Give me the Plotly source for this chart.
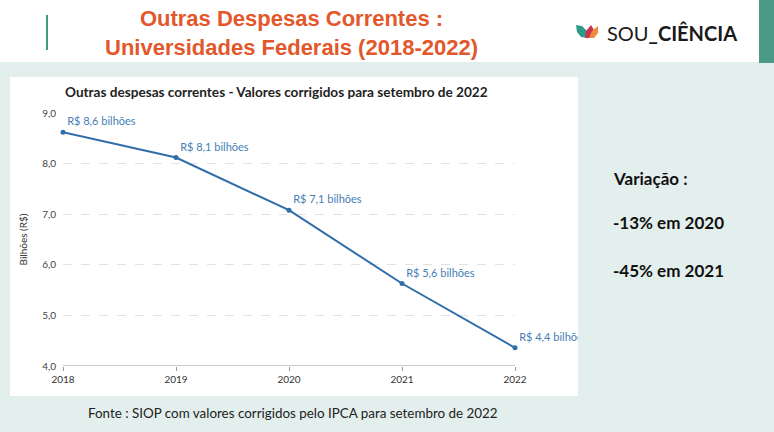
import plotly.graph_objects as go

# ---- data ----
years = [2018, 2019, 2020, 2021, 2022]
values = [8.62, 8.12, 7.08, 5.63, 4.36]
labels = ["R$ 8,6 bilhões", "R$ 8,1 bilhões", "R$ 7,1 bilhões", "R$ 5,6 bilhões", "R$ 4,4 bilhões"]
y_ticks = [4, 5, 6, 7, 8, 9]
y_tick_text = ["4,0", "5,0", "6,0", "7,0", "8,0", "9,0"]
x_tick_text = ["2018", "2019", "2020", "2021", "2022"]
variation_lines = ["Variação :", "-13% em 2020", "-45% em 2021"]

W, H = 774, 432
L, R, T, B = 63, 259, 113, 66
PW, PH = W - L - R, H - T - B


def px(x):
    return (x - L) / PW


def py(y):
    return (H - B - y) / PH


MINT = "#e3efec"
BLUE = "#2f6ea8"
LBLUE = "#4580b5"

fig = go.Figure()
fig.add_trace(go.Scatter(
    x=years, y=values, mode="lines+markers+text",
    line=dict(color=BLUE, width=2),
    marker=dict(color=BLUE, size=5),
    text=labels, textposition="top right",
    textfont=dict(family="Lato", size=11, color=LBLUE),
    cliponaxis=False, hoverinfo="skip", showlegend=False,
))

shapes = [
    dict(type="rect", xref="paper", yref="paper", x0=px(0), x1=px(W), y0=py(0), y1=py(62),
         fillcolor="white", line_width=0, layer="below"),
    dict(type="rect", xref="paper", yref="paper", x0=px(10), x1=px(578), y0=py(77), y1=py(396),
         fillcolor="white", line_width=0, layer="below"),
    dict(type="line", xref="paper", yref="paper", x0=px(47), x1=px(47), y0=py(15), y1=py(50),
         line=dict(color="#3f9a80", width=2)),
    dict(type="rect", xref="paper", yref="paper", x0=px(759), x1=px(W), y0=py(0), y1=py(63),
         fillcolor="#4a9a86", line_width=0, layer="below"),
    dict(type="rect", xref="paper", yref="paper", x0=px(578), x1=px(W), y0=py(63), y1=py(H),
         fillcolor=MINT, line_width=0, layer="above"),
]


def path_px(points):
    return "M " + " L ".join(f"{px(a)},{py(b)}" for a, b in points) + " Z"


shapes += [
    dict(type="path", xref="paper", yref="paper",
         path=path_px([(576, 25), (582, 26), (587, 31), (588, 38), (581, 37), (577, 32)]),
         fillcolor="#2e9b8a", line_width=0),
    dict(type="path", xref="paper", yref="paper",
         path=path_px([(585, 38), (586, 31), (591, 25), (594, 30), (591, 38)]),
         fillcolor="#c8344f", line_width=0),
    dict(type="path", xref="paper", yref="paper",
         path=path_px([(589, 38), (592, 31), (598, 26), (598, 33), (594, 38)]),
         fillcolor="#f08a3c", line_width=0),
]

annotations = [
    dict(text="<b>Outras Despesas Correntes :<br>Universidades Federais (2018-2022)</b>",
         x=px(291), y=py(33), xref="paper", yref="paper", showarrow=False,
         xanchor="center", yanchor="middle",
         font=dict(family="Liberation Sans", size=22, color="#e2572b"), align="center"),
    dict(text="SOU<b>_CIÊNCIA</b>", x=px(605), y=py(33), xref="paper", yref="paper",
         xanchor="left", yanchor="middle", showarrow=False,
         font=dict(family="Lato", size=20, color="#1a1a1a")),
    dict(text="Outras despesas correntes - Valores corrigidos para setembro de 2022",
         x=px(63), y=py(92), xref="paper", yref="paper", xanchor="left", yanchor="middle",
         showarrow=False,
         font=dict(family="Lato", size=13.6, color="#222222", weight=700)),
    dict(text="Fonte : SIOP com valores corrigidos pelo IPCA para setembro de 2022",
         x=px(293), y=py(413), xref="paper", yref="paper", showarrow=False,
         xanchor="center", yanchor="middle",
         font=dict(family="Lato", size=13.4, color="#222222")),
]
for txt, yy in zip(variation_lines, [178, 222, 270]):
    annotations.append(dict(text=f"<b>{txt}</b>", x=px(611), y=py(yy), xref="paper", yref="paper",
                            xanchor="left", yanchor="middle", showarrow=False,
                            font=dict(family="Lato", size=17, color="#111111")))

fig.update_layout(
    width=W, height=H,
    margin=dict(l=L, r=R, t=T, b=B),
    paper_bgcolor=MINT, plot_bgcolor="white",
    shapes=shapes, annotations=annotations,
    xaxis=dict(range=[2018, 2022], tickvals=years, ticktext=x_tick_text,
               showgrid=False, zeroline=False, showline=False,
               ticks="outside", ticklen=4, tickcolor="#999999",
               tickfont=dict(family="Lato", size=10, color="#333333")),
    yaxis=dict(range=[4, 9], tickvals=y_ticks, ticktext=y_tick_text,
               showgrid=True, gridcolor="#e2e2e2", griddash="dash", zeroline=False,
               showline=False, ticks="", ticklabelstandoff=6,
               tickfont=dict(family="Lato", size=10, color="#444444"),
               title=dict(text="Bilhões (R$)", standoff=12,
                          font=dict(family="Lato", size=10, color="#333333"))),
)
fig.add_shape(type="line", xref="x", yref="y", x0=2018, x1=2022, y0=4, y1=4,
              line=dict(color="#9a9a9a", width=1.2), layer="below")

fig.write_html("out.html", config={"displayModeBar": False},
               post_script="document.body.style.margin='0';document.body.style.overflow='hidden';")
